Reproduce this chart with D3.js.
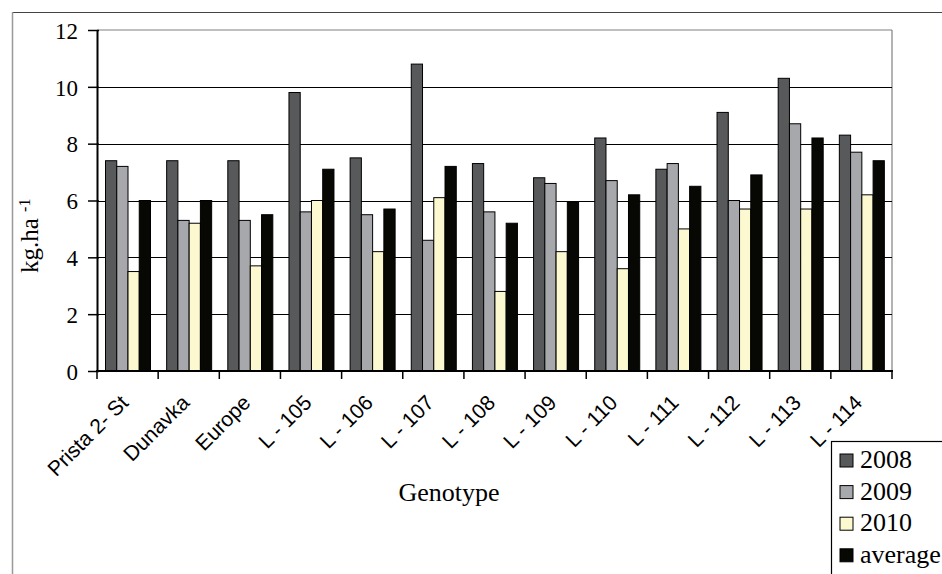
<!DOCTYPE html>
<html>
<head>
<meta charset="utf-8">
<script src="https://cdn.jsdelivr.net/npm/d3@7"></script>
<style>
  html, body { margin: 0; padding: 0; background: #fff; }
  svg { display: block; }
  .serif { font-family: "Liberation Serif", "Times New Roman", serif; }
  .sans { font-family: "Liberation Sans", Arial, sans-serif; }
</style>
</head>
<body>
<svg id="chart" width="942" height="574"></svg>
<script>
const categories = ["Prista 2- St", "Dunavka", "Europe", "L - 105", "L - 106", "L - 107", "L - 108", "L - 109", "L - 110", "L - 111", "L - 112", "L - 113", "L - 114"];
const seriesNames = ["2008", "2009", "2010", "average"];
const v2008 = [7.4, 7.4, 7.4, 9.8, 7.5, 10.8, 7.3, 6.8, 8.2, 7.1, 9.1, 10.3, 8.3];
const v2009 = [7.2, 5.3, 5.3, 5.6, 5.5, 4.6, 5.6, 6.6, 6.7, 7.3, 6.0, 8.7, 7.7];
const v2010 = [3.5, 5.2, 3.7, 6.0, 4.2, 6.1, 2.8, 4.2, 3.6, 5.0, 5.7, 5.7, 6.2];
const vAverage = [6.0, 6.0, 5.5, 7.1, 5.7, 7.2, 5.2, 5.95, 6.2, 6.5, 6.9, 8.2, 7.4];
const yTicks = [0, 2, 4, 6, 8, 10, 12];
const colors = ["#58595b", "#a7a8ac", "#fcf9d0", "#070804"];

const seriesValues = [v2008, v2009, v2010, vAverage];

const svg = d3.select("#chart");
const L = 97, R = 892, T = 30, B = 371;

const x0 = d3.scaleBand().domain(categories).range([L, R]).paddingInner(0).paddingOuter(0);
const x1 = d3.scaleBand().domain(seriesNames).range([8.5, 53.5]).padding(0);
const y = d3.scaleLinear().domain([0, 12]).range([B, T]);

// outer frame
svg.append("line").attr("x1", 12).attr("x2", 942).attr("y1", 12.5).attr("y2", 12.5).attr("stroke", "#444").attr("stroke-width", 1);
svg.append("line").attr("x1", 12.5).attr("x2", 12.5).attr("y1", 12).attr("y2", 574).attr("stroke", "#999").attr("stroke-width", 1.5);

// plot area border (gray)
svg.append("line").attr("x1", L).attr("x2", R).attr("y1", T).attr("y2", T).attr("stroke", "#808080").attr("stroke-width", 1.2);
svg.append("line").attr("x1", R).attr("x2", R).attr("y1", T).attr("y2", B).attr("stroke", "#808080").attr("stroke-width", 1.2);

// gridlines
svg.append("g").selectAll("line").data(yTicks.filter(d => d > 0 && d < 12)).join("line")
  .attr("x1", L).attr("x2", R)
  .attr("y1", d => Math.round(y(d)) + 0.5).attr("y2", d => Math.round(y(d)) + 0.5)
  .attr("stroke", "#000").attr("stroke-width", 1);

// bars
const groups = svg.append("g").selectAll("g").data(categories).join("g")
  .attr("transform", d => `translate(${x0(d)},0)`);
groups.selectAll("rect").data((d, i) => seriesNames.map((s, j) => ({ s, j, v: seriesValues[j][i] }))).join("rect")
  .attr("x", d => x1(d.s))
  .attr("width", x1.bandwidth())
  .attr("y", d => y(d.v))
  .attr("height", d => B - y(d.v))
  .attr("fill", d => colors[d.j])
  .attr("stroke", "#000")
  .attr("stroke-width", 1);

// y axis
const yAxis = d3.axisLeft(y).tickValues(yTicks).tickSize(9).tickSizeOuter(0).tickPadding(10).tickFormat(d3.format("d"));
const yg = svg.append("g").attr("transform", `translate(${L},0)`).call(yAxis);
yg.attr("font-family", null).attr("font-size", null);
yg.select(".domain").attr("stroke", "#000").attr("stroke-width", 2);
yg.selectAll(".tick line").attr("stroke", "#000").attr("stroke-width", 1.5).attr("x2", -9).attr("x1", 2);
yg.selectAll(".tick text").attr("class", "serif").style("font-size", "23px").attr("fill", "#000").attr("dy", "0.36em");

// x axis
const tickPositions = d3.range(categories.length + 1).map(i => L + i * x0.step());
svg.append("line").attr("x1", L - 1).attr("x2", R + 1).attr("y1", B).attr("y2", B).attr("stroke", "#000").attr("stroke-width", 2);
svg.append("g").selectAll("line").data(tickPositions).join("line")
  .attr("x1", d => d).attr("x2", d => d).attr("y1", B - 1).attr("y2", B + 8)
  .attr("stroke", "#000").attr("stroke-width", 1.5);

// x labels
svg.append("g").selectAll("text").data(categories).join("text")
  .attr("class", "sans")
  .attr("transform", d => `translate(${x0(d) + x0.bandwidth() / 2 + 2},${404}) rotate(-45)`)
  .attr("text-anchor", "end")
  .style("font-size", "21px")
  .attr("fill", "#000")
  .text(d => d);

// axis titles
svg.append("text").attr("class", "serif").attr("x", 449).attr("y", 501).attr("text-anchor", "middle")
  .style("font-size", "26px").attr("fill", "#000")
  .text("Genotype");

const yt = svg.append("text").attr("class", "serif").attr("transform", "translate(38,273) rotate(-90)")
  .attr("text-anchor", "start")
  .style("font-size", "25px").attr("fill", "#000");
yt.append("tspan").text("kg.ha ");
yt.append("tspan").style("font-size", "16px").attr("dy", -8).text("-1");

// legend
const lg = svg.append("g");
lg.append("rect").attr("x", 831.5).attr("y", 441.5).attr("width", 140).attr("height", 160)
  .attr("fill", "#fff").attr("stroke", "#000").attr("stroke-width", 1.2);
const items = lg.selectAll("g.item").data(seriesNames).join("g").attr("class", "item")
  .attr("transform", (d, i) => `translate(0,${468 + i * 31.6})`);
items.append("rect").attr("x", 840).attr("y", -14).attr("width", 13).attr("height", 13)
  .attr("fill", (d, i) => colors[i]).attr("stroke", "#000").attr("stroke-width", 1);
items.append("text").attr("class", "serif").attr("x", 860).attr("y", 0)
  .style("font-size", "26px").attr("fill", "#000")
  .text(d => d);
</script>
</body>
</html>
